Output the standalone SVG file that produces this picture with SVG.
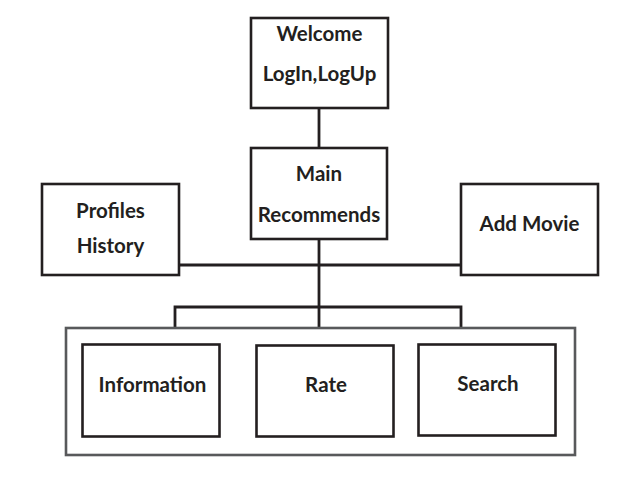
<svg xmlns="http://www.w3.org/2000/svg" width="642" height="484" viewBox="0 0 642 484">
<style>
.box{fill:#fff;stroke:#231f20;stroke-width:2.6}
.outer{fill:none;stroke:#58595b;stroke-width:2.6}
.line{fill:none;stroke:#231f20;stroke-width:2.8}
text{font-family:Lato,"Open Sans","Liberation Sans",sans-serif;font-weight:bold;font-size:20.5px;fill:#231f20;text-anchor:middle}
</style>
<rect width="642" height="484" fill="#fff"/>
<g id="connectors">
<line class="line" x1="319" y1="108" x2="319" y2="148"/>
<line class="line" x1="319" y1="239" x2="319" y2="328"/>
<line class="line" x1="179" y1="265" x2="461" y2="265"/>
<polyline class="line" points="175,328 175,307 461,307 461,328"/>
</g>
<g id="welcome">
<rect class="box" x="251" y="18" width="137" height="90"/>
<text x="319.5" y="41">Welcome</text>
<text x="319.5" y="81">LogIn,LogUp</text>
</g>
<g id="main">
<rect class="box" x="251" y="148" width="136" height="91"/>
<text x="319" y="181">Main</text>
<text x="319" y="222">Recommends</text>
</g>
<g id="profiles">
<rect class="box" x="42" y="184" width="137" height="91"/>
<text x="110.5" y="218">Profiles</text>
<text x="110.5" y="253">History</text>
</g>
<g id="addmovie">
<rect class="box" x="461" y="184" width="137" height="91"/>
<text x="529.5" y="231">Add Movie</text>
</g>
<g id="group">
<rect class="outer" x="66" y="328" width="509" height="127"/>
</g>
<g id="information">
<rect class="box" x="82.5" y="344.5" width="137" height="92"/>
<text x="152.5" y="392">Information</text>
</g>
<g id="rate">
<rect class="box" x="256.5" y="345.5" width="137" height="91"/>
<text x="326" y="392">Rate</text>
</g>
<g id="search">
<rect class="box" x="418.5" y="344.5" width="137" height="91"/>
<text x="488" y="391">Search</text>
</g>
</svg>
